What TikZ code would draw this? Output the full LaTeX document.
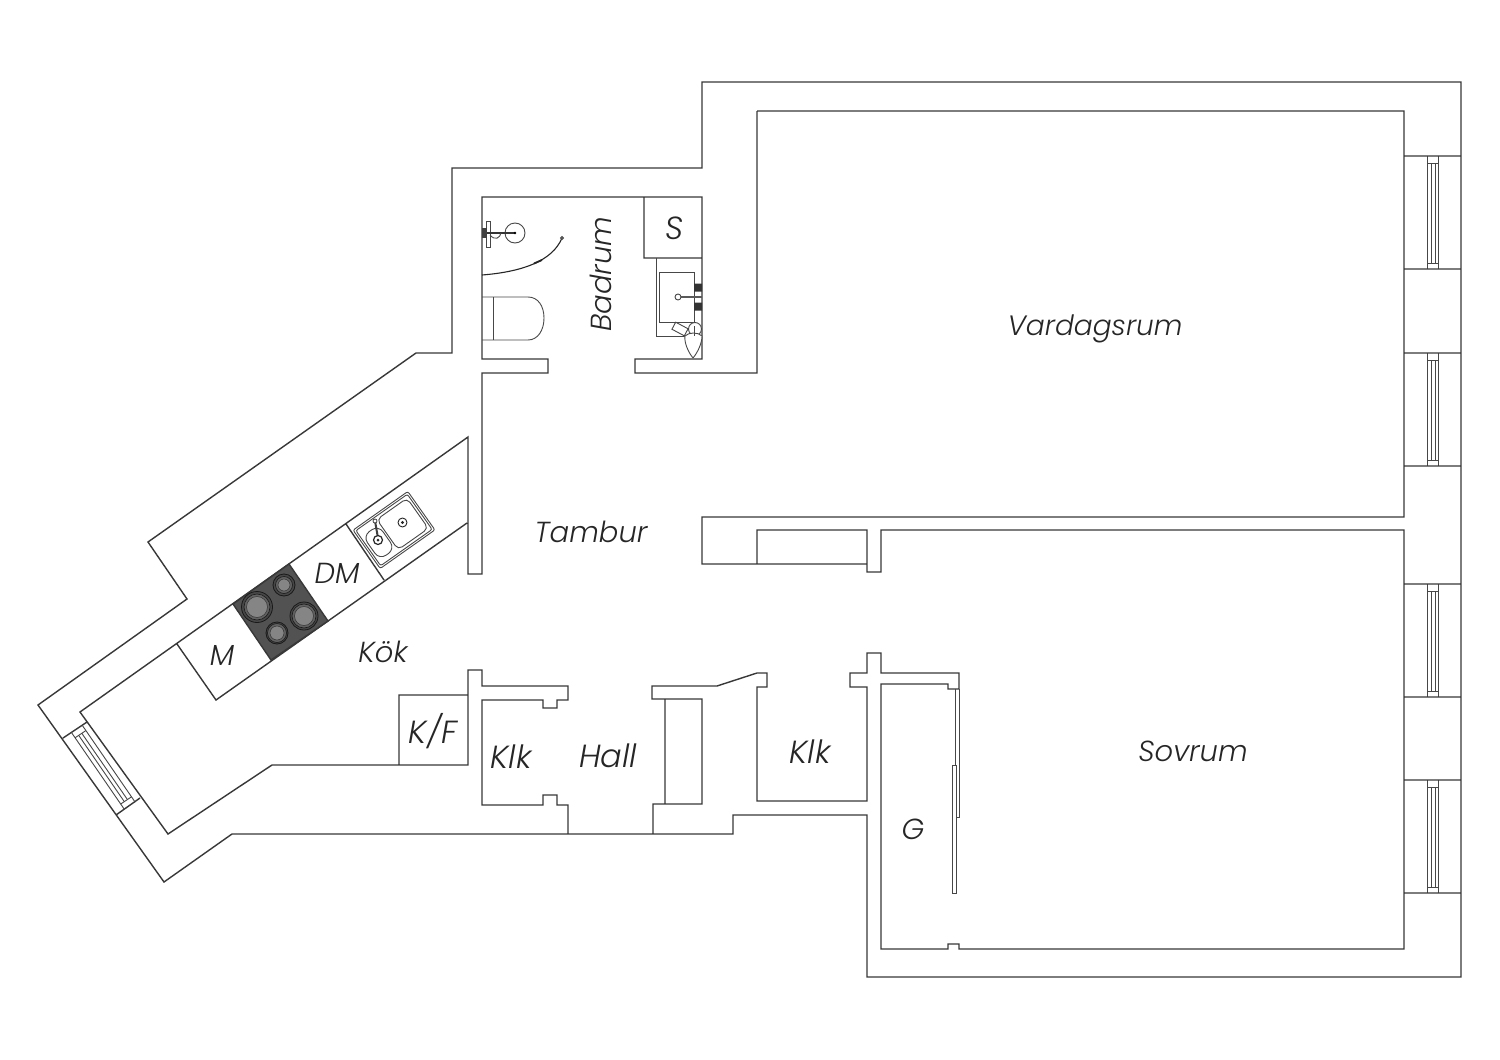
\documentclass[tikz,border=0pt]{standalone}
\usepackage{fontspec}
\newfontfamily\lbl{Poppins}[UprightFont=* Light Italic]
\tikzset{
  wall/.style={draw=black!78,line width=1.4pt,line join=miter},
  thin/.style={draw=black!72,line width=0.9pt},
  lab/.style={font=\lbl\fontsize{29}{32}\selectfont,text=black!85,inner sep=0pt,anchor=base},
  labbig/.style={lab,font=\lbl\fontsize{32}{34}\selectfont},
}
\newcommand{\rwin}[1]{%
  \draw[thin] (1427,#1)--(1427,#1+113) (1438,#1)--(1438,#1+113);
  \draw[thin] (1431,#1+7)--(1431,#1+107) (1435,#1+7)--(1435,#1+107);
  \draw[thin] (1427,#1+7)--(1438,#1+7) (1427,#1+107)--(1438,#1+107);
}
\begin{document}
\begin{tikzpicture}[x=1pt,y=-1pt]
\useasboundingbox[fill=white] (0,0) rectangle (1500,1060);
% right windows (frames)
\rwin{156}\rwin{353}\rwin{584}\rwin{780}
% all walls as one path
\draw[wall]
 (702,82)--(1461,82)--(1461,977)--(867,977)--(867,815)--(733,815)--(733,834)--(232,834)--(164,882)--(38,705)--(187,599)--(148,542)--(416,353)--(452,353)--(452,168)--(702,168)--cycle
 (757,111)--(1404,111)--(1404,517)--(702,517)--(702,564)--(867,564)--(867,572)--(881,572)--(881,530)--(1404,530)--(1404,949)--(959,949)--(959,944)--(948,944)--(948,949)--(881,949)--(881,684)--(948,684)--(948,689)--(959,689)--(959,673)--(881,673)--(881,653)--(867,653)--(867,673)--(850,673)--(850,687)--(867,687)--(867,801)--(757,801)--(757,687)--(767,687)--(767,673)--(757,673)--(717,686)--(652,686)--(652,699)--(702,699)--(702,804)--(653,804)--(653,834)
 (568,834)--(568,805)--(557,805)--(557,795)--(543,795)--(543,805)--(482,805)--(482,700)--(543,700)--(543,708)--(557,708)--(557,700)--(568,700)--(568,686)--(482,686)--(482,670)--(468,670)--(468,765)--(272,765)--(168,834)--(80,712)--(468,437)--(468,574)--(482,574)--(482,373)--(548,373)--(548,359)--(482,359)--(482,197)--(702,197)--(702,359)--(635,359)--(635,373)--(757,373)--(757,111)
 (757,564)--(757,530)--(867,530)--(867,564)
 (665,699)--(665,804)
 (399,765)--(399,695)--(468,695)
 (644,197)--(644,258)--(702,258)
 (177,644)--(216,700)--(467,523)
 (346,524)--(384,580)
 (63,738)--(87,722) (116,815)--(140,798)
 (1404,156)--(1461,156) (1404,269)--(1461,269)
 (1404,353)--(1461,353) (1404,466)--(1461,466)
 (1404,584)--(1461,584) (1404,697)--(1461,697)
 (1404,780)--(1461,780) (1404,893)--(1461,893);
% wardrobe doors
\draw[thin] (955,689)--(955,817)--(959,817)--(959,689);
\draw[thin,fill=white] (952,765) rectangle (956,893);
% kitchen window
\begin{scope}[shift={(63pt,-738pt)},x={(53pt,-77pt)},y={(24pt,16pt)}]
  \draw[thin] (0,.35)--(1,.35) (0,.8)--(1,.8);
  \draw[thin] (.07,.5)--(.93,.5) (.07,.63)--(.93,.63);
  \draw[thin] (.07,.35)--(.07,.8) (.93,.35)--(.93,.8);
\end{scope}
% hob
\draw[wall,fill=black!68] (289,564)--(233,604)--(271,660)--(328,621)--cycle;
\foreach \cx/\cy/\ro/\rm/\ri in {257/607/15.5/13/10.5,284/585/11/8.5/6,304/616/14/12/9.5,277/633/11/9.5/7}{
  \draw[line width=.8pt,draw=black!90,fill=black!72] (\cx,\cy) circle (\ro);
  \draw[line width=.6pt,draw=black!90,fill=black!62] (\cx,\cy) circle (\rm);
  \draw[line width=.5pt,draw=black!80,fill=black!48] (\cx,\cy) circle (\ri);
}
% kitchen sink
\begin{scope}[shift={(394,530)},rotate=35.2]
  \draw[thin,rounded corners=2pt] (-33.5,-23.5) rectangle (33.5,23.5);
  \draw[thin,rounded corners=2pt] (-31.5,-21.5) rectangle (31.5,21.5);
  \draw[thin,rounded corners=5pt] (-8,-18.5) rectangle (29,18.5);
  \draw[thin,rounded corners=8pt] (-29,-13) rectangle (-10,16);
\end{scope}
\draw[line width=.9pt,fill=white,draw=black!85] (402.5,522.5) circle (4.5);
\fill[black!85] (402.5,522.5) circle (1.6);
\draw[line width=2pt,draw=black!75] (375,521)--(378,538);
\draw[line width=.8pt,fill=white,draw=black!75] (375,521) circle (2);
\draw[line width=1.2pt,fill=white,draw=black!85] (378,540) circle (4.5);
\fill[black!85] (378,540) circle (1.5);
% bathroom
\draw[thin] (656,258)--(656,336)--(690,336);
\draw[thin] (659,272) rectangle (694,322);
\fill[black!80] (694,283.5) rectangle (702,291.5) (694,302.5) rectangle (702,310.5);
\draw[line width=1.6pt,draw=black!65] (678,297)--(702,297);
\draw[thin,fill=white] (678,297) circle (3);
% paper and toilet brush
\begin{scope}[shift={(680,329)},rotate=-28]
  \draw[thin,fill=white] (-7,-4) rectangle (7,4);
\end{scope}
\draw[thin,fill=white] (695,329) circle (6.5);
\draw[thin,fill=white] (693,358) .. controls (688,352) and (684,342) .. (685,336) .. controls (689,332) and (698,332) .. (702,336) .. controls (702,343) and (698,352) .. (693,358);
\draw[thin] (694,326)--(694,336);
% toilet
\draw[thin] (482,297)--(528,297) .. controls (538,297) and (544,306) .. (544,318) .. controls (544,330) and (538,340) .. (528,340)--(482,340);
\draw[thin] (493,297)--(493,340);
% shower
\draw[thin,fill=white] (515,233) circle (10);
\draw[thin] (486,221) rectangle (490,247);
\draw[line width=1.5pt,draw=black!80] (482,233)--(515,233);
\fill[black!75] (482,228) rectangle (487,238);
\fill[black] (515,233) circle (1.3);
\draw[thin] (490,235) .. controls (495,241) and (500,238) .. (501,233);
\draw[line width=1.1pt,draw=black!85] (482,275) .. controls (520,272) and (552,262) .. (562,238);
\draw[line width=1.8pt,draw=black!85] (534,263.5)--(542,260);
\draw[thin,fill=black!50] (562,238) circle (1.5);
% labels
\node[lab,font=\lbl\fontsize{28}{32}\selectfont] (vard) at (1095,335) {Vardagsrum};
\node[lab,rotate=90] (bad) at (611,274) {Badrum};
\node[labbig] (s) at (675,239) {S};
\node[lab] (tam) at (591,542) {Tambur};
\node[lab] (dm) at (337,583) {DM};
\node[lab] (kok) at (383,662) {Kök};
\node[lab] (m) at (222,665) {M};
\node[labbig] (kf) at (433,743) {K/F};
\node[labbig] (klk1) at (511,768) {Klk};
\node[labbig] (hall) at (608,767) {Hall};
\node[labbig] (klk2) at (810,763) {Klk};
\node[lab] (sov) at (1193,761) {Sovrum};
\node[lab] (g) at (913,839) {G};
\end{tikzpicture}
\end{document}
